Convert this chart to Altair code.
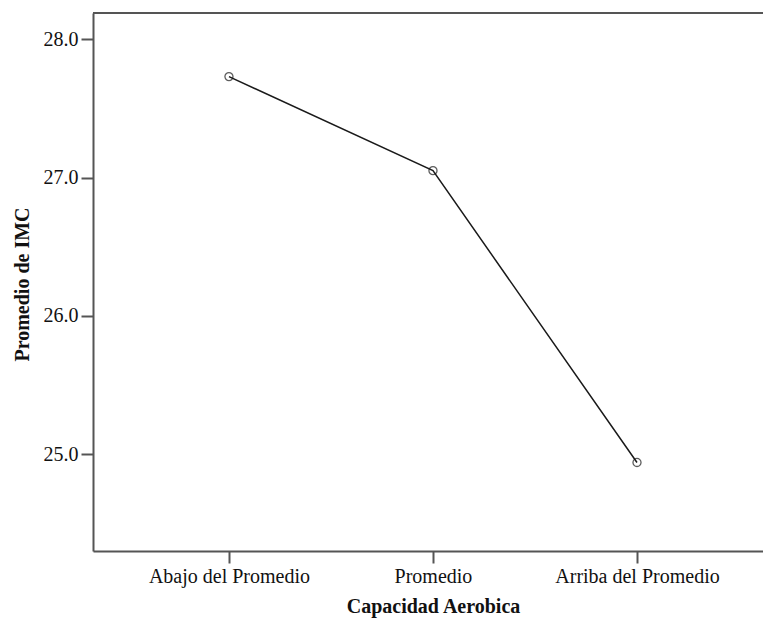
import altair as alt
import pandas as pd

# Mean BMI by aerobic capacity group
categorias = ["Abajo del Promedio", "Promedio", "Arriba del Promedio"]
promedio_imc = [27.73, 27.05, 24.94]
ticks_y = [25.0, 26.0, 27.0, 28.0]

df = pd.DataFrame({"capacidad": categorias, "imc": promedio_imc})

W, H = 670, 538
FONT = "Liberation Serif"
AXIS_COLOR = "#555555"
FS = 20

x_enc = alt.X(
    "capacidad:N",
    sort=categorias,
    scale=alt.Scale(type="point", padding=0.642, align=0.519),
    axis=alt.Axis(
        title="Capacidad Aerobica",
        labelAngle=0,
        labelFont=FONT,
        labelFontSize=FS,
        labelColor="#111111",
        labelPadding=3,
        tickSize=12,
        tickWidth=2,
        tickColor=AXIS_COLOR,
        domainColor=AXIS_COLOR,
        domainWidth=2,
        titleFont=FONT,
        titleFontSize=FS,
        titleFontWeight="bold",
        titleColor="#111111",
        titleX=340,
        titleY=55,
        titleBaseline="middle",
        grid=False,
    ),
)

y_enc = alt.Y(
    "imc:Q",
    scale=alt.Scale(domain=[24.30, 28.19], nice=False, zero=False),
    axis=alt.Axis(
        title="Promedio de IMC",
        values=ticks_y,
        format=".1f",
        labelFont=FONT,
        labelFontSize=FS,
        labelColor="#111111",
        labelPadding=3,
        tickSize=12,
        tickWidth=2,
        tickColor=AXIS_COLOR,
        domainColor=AXIS_COLOR,
        domainWidth=2,
        titleFont=FONT,
        titleFontSize=FS,
        titleFontWeight="bold",
        titleColor="#111111",
        titleX=-71,
        titleY=271,
        titleAngle=-90,
        titleAlign="center",
        titleBaseline="middle",
        grid=False,
    ),
)

base = alt.Chart(df)

line = base.mark_line(color="#1a1a1a", strokeWidth=1.5).encode(x=x_enc, y=y_enc)
points = base.mark_point(
    shape="circle", size=65, filled=False, color="#1a1a1a", strokeWidth=1.3
).encode(x=x_enc, y=y_enc)

# top edge of the frame
frame_top = alt.Chart(pd.DataFrame({"k": [0]})).mark_rule(
    color=AXIS_COLOR, strokeWidth=2
).encode(y=alt.value(0), x=alt.value(0), x2=alt.value(W))

chart = (
    alt.layer(frame_top, line, points)
    .properties(
        width=W,
        height=H,
        autosize=alt.AutoSizeParams(type="none"),
        padding={"left": 93, "top": 13, "right": 0, "bottom": 68},
        background="white",
    )
    .configure_view(stroke=None)
)

chart.save("out.html", embed_options={"renderer": "svg", "actions": False})
